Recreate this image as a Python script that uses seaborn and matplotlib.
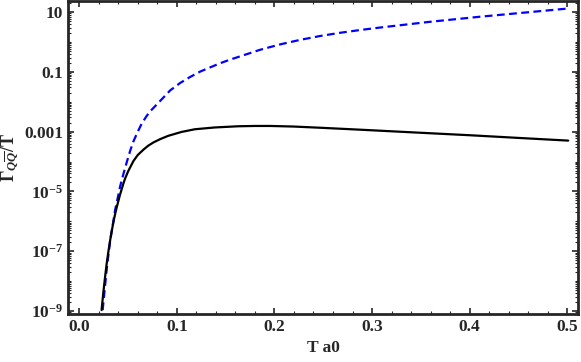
import numpy as np
import pandas as pd
import matplotlib
matplotlib.use("Agg")
import matplotlib.pyplot as plt
import matplotlib.ticker as mticker
import seaborn as sns

# Values: T a0 and log10(Gamma/T)
t_black = [0.0229, 0.0246, 0.0263, 0.028, 0.0297, 0.0314, 0.0331, 0.0355, 0.0369, 0.0382,
           0.0417, 0.0454, 0.0471, 0.0502, 0.0556, 0.0600, 0.0659, 0.0707, 0.0761, 0.083,
           0.0912, 0.1048, 0.1185, 0.139, 0.163, 0.18, 0.196, 0.22, 0.247, 0.291,
           0.339, 0.40, 0.45, 0.501]
log_black = [-8.97, -8.41, -7.91, -7.45, -7.05, -6.69, -6.36, -5.95, -5.74, -5.56,
             -5.12, -4.72, -4.56, -4.32, -3.98, -3.78, -3.60, -3.47, -3.36, -3.25,
             -3.14, -3.01, -2.92, -2.86, -2.82, -2.81, -2.81, -2.83, -2.87, -2.94,
             -3.02, -3.12, -3.21, -3.30]

t_blue = [0.0240, 0.0284, 0.0318, 0.0351, 0.0369, 0.0386, 0.0420, 0.0454, 0.0489, 0.0523,
          0.0556, 0.0600, 0.0642, 0.0690, 0.0727, 0.0780, 0.0830, 0.0932, 0.1035, 0.1137,
          0.124, 0.1342, 0.1445, 0.1547, 0.165, 0.1855, 0.206, 0.2264, 0.2469, 0.2674,
          0.2879, 0.3084, 0.3289, 0.3596, 0.4109, 0.4621, 0.4997]
log_blue = [-8.97, -7.52, -6.63, -5.97, -5.60, -5.35, -4.82, -4.40, -4.00, -3.63,
            -3.32, -3.00, -2.72, -2.48, -2.32, -2.14, -1.97, -1.62, -1.37, -1.17,
            -0.99, -0.85, -0.71, -0.59, -0.48, -0.26, -0.08, 0.07, 0.20, 0.307,
            0.40, 0.483, 0.56, 0.675, 0.845, 1.00, 1.115]

x_ticks = [0.0, 0.1, 0.2, 0.3, 0.4, 0.5]
y_ticks = [1e1, 1e-1, 1e-3, 1e-5, 1e-7, 1e-9]
y_tick_labels = ["10", "0.1", "0.001", r"$10^{-5}$", r"$10^{-7}$", r"$10^{-9}$"]

sns.set_style("ticks")
plt.rcParams["font.family"] = ["Liberation Serif", "DejaVu Serif"]
plt.rcParams["font.weight"] = "bold"
plt.rcParams["mathtext.fontset"] = "custom"
plt.rcParams["mathtext.rm"] = "Liberation Serif:bold"
plt.rcParams["mathtext.it"] = "Liberation Serif:italic:bold"
plt.rcParams["mathtext.bf"] = "Liberation Serif:bold"

df_black = pd.DataFrame({"T": t_black, "G": np.power(10.0, log_black)})
df_blue = pd.DataFrame({"T": t_blue, "G": np.power(10.0, log_blue)})

fig = plt.figure(figsize=(5.81, 3.62), dpi=100)
ax = fig.add_axes([68 / 581, 1 - 314 / 362, 510 / 581, 313 / 362])

sns.lineplot(data=df_blue, x="T", y="G", ax=ax, color="#0000ff", lw=1.6,
             linestyle=(0, (3.5, 2)), estimator=None, sort=False)
sns.lineplot(data=df_black, x="T", y="G", ax=ax, color="black", lw=1.6,
             estimator=None, sort=False)

ax.set_yscale("log")
ax.set_xlim(-0.0115, 0.511)
ax.set_ylim(10 ** -9.1, 10 ** 1.37)

ax.set_xticks(x_ticks)
ax.set_xticklabels([f"{v:.1f}" for v in x_ticks])
ax.xaxis.set_minor_locator(mticker.MultipleLocator(0.02))
ax.set_yticks(y_ticks)
ax.set_yticklabels(y_tick_labels)
ax.yaxis.set_minor_locator(mticker.LogLocator(base=10, subs=np.arange(1, 10), numticks=30))
ax.yaxis.set_minor_formatter(mticker.NullFormatter())

ax.tick_params(which="both", direction="in", top=True, right=True, labelsize=12.5, width=1.2)
ax.tick_params(which="major", length=4)
ax.tick_params(which="minor", length=2, width=0.8)
for s in ax.spines.values():
    s.set_linewidth(2)
    s.set_visible(True)

ax.set_xlabel("T a0", fontsize=12.5, fontweight="bold", labelpad=4)
ax.set_ylabel(r"$\Gamma_{Q\overline{Q}}$/T", fontsize=13, fontweight="bold", labelpad=2)

fig.savefig("out.png", dpi=100)
